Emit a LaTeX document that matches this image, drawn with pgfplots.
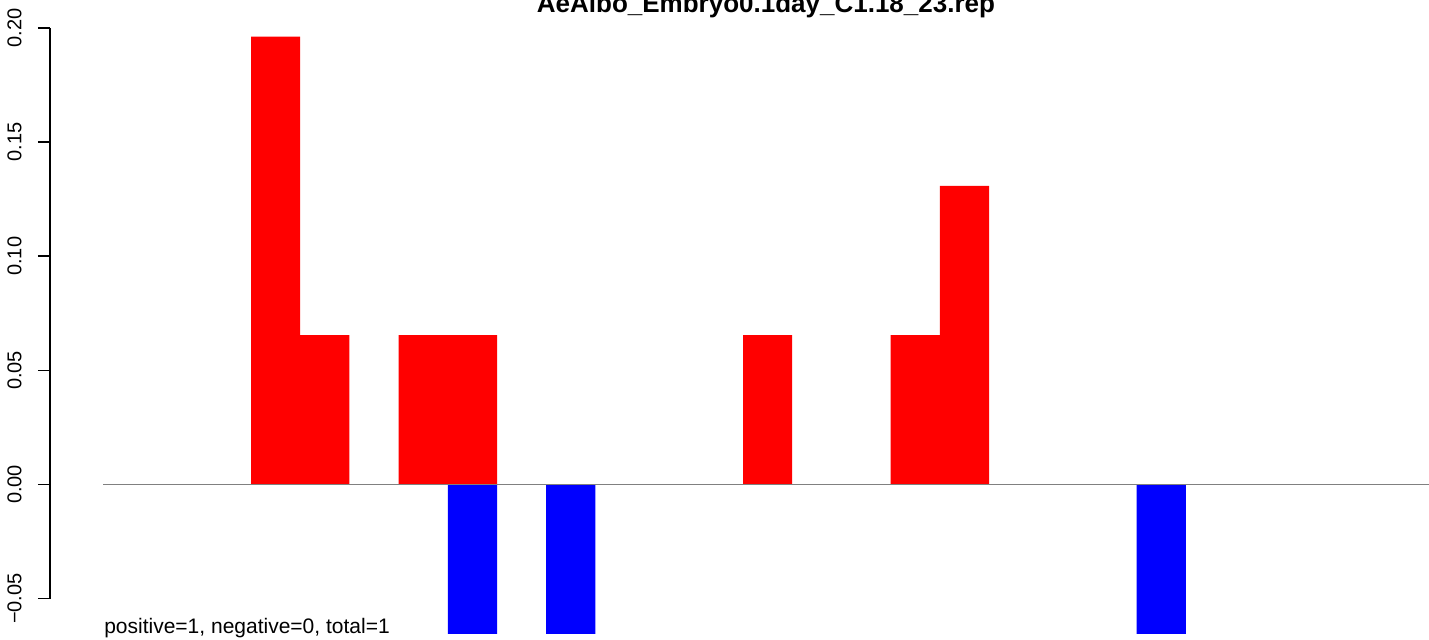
\documentclass[border=0pt]{standalone}
\usepackage{pgfplots}
\pgfplotsset{compat=1.18}
\usepackage{fontspec}
\setmainfont{Liberation Sans}
\begin{document}
\begin{tikzpicture}
\begin{axis}[
  scale only axis,
  width=689.5pt, height=320pt,
  xmin=-1.0854, xmax=26.943,
  ymin=-0.06813, ymax=0.21227,
  axis lines*=left,
  axis line style={draw=none},
  xtick=\empty,
  ytick={-0.05,0,0.05,0.10,0.15,0.20},
  yticklabels={−0.05,0.00,0.05,0.10,0.15,0.20},
  tick align=outside,
  major tick length=6pt,
  ytick style={black, line width=0.75pt},
  yticklabel style={rotate=90, anchor=south, font=\fontsize{10}{12}\selectfont, inner sep=0pt},
  yticklabel shift=8pt,
  clip=false,
]
\addplot[ybar, bar width=1, bar shift=0pt, fill=red, draw=none] coordinates {
  (3.5,0.1962) (4.5,0.0654) (6.5,0.0654) (7.5,0.0654) (13.5,0.0654) (16.5,0.0654) (17.5,0.1308)
};
\addplot[ybar, bar width=1, bar shift=0pt, fill=blue, draw=none] coordinates {
  (7.5,-0.0654) (9.5,-0.0654) (21.5,-0.0654)
};
\addplot[gray, line width=0.6pt] coordinates {(0,0) (26.943,0)};
\draw[black, line width=0.75pt] (axis cs:-1.0854,-0.05) -- (axis cs:-1.0854,0.20);
\node[anchor=base, inner sep=0pt, font=\fontsize{13}{15}\selectfont\bfseries] at (axis cs:13.467,0.2066) {AeAlbo\_Embryo0.1day\_C1.18\_23.rep};
\node[anchor=base west, inner sep=0pt, font=\fontsize{10.5}{12}\selectfont] at (axis cs:0.01,-0.0655) {positive=1, negative=0, total=1};
\coordinate (bl) at (rel axis cs:0,0);
\coordinate (tr) at (rel axis cs:1,1);
\end{axis}
\pgfresetboundingbox
\path[use as bounding box] ([xshift=-25pt]bl) rectangle (tr);
\end{tikzpicture}
\end{document}
